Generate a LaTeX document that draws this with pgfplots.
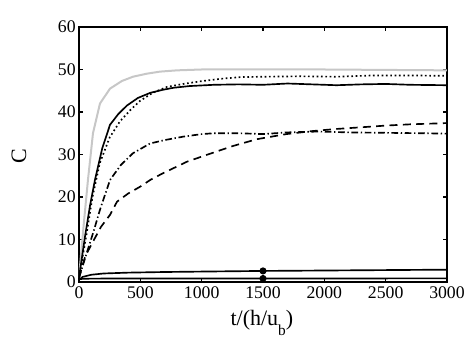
\documentclass[border=0pt]{standalone}
\usepackage{pgfplots}
\pgfplotsset{compat=1.18}
\usepackage{fontspec}
\setmainfont{Liberation Serif}

\begin{document}
\begin{tikzpicture}
\begin{axis}[
  name=ax,
  width=276pt, height=191.25pt, scale only axis,
  xmin=0, xmax=3000, ymin=0, ymax=60,
  xtick={0,500,...,3000}, ytick={0,10,...,60},
  scaled x ticks=false,
  tick align=inside, major tick length=3pt,
  axis line style={line width=1.2pt},
  major tick style={line width=0.8pt, black},
  ticklabel style={font=\fontsize{13.3}{15}\selectfont},
  yticklabel style={xshift=1pt},
  /pgf/number format/assume math mode=true,
  /pgf/number format/1000 sep={},
  label style={font=\fontsize{16.5}{18}\selectfont},
  xlabel={t/(h/u\raisebox{-0.45em}{\fontsize{11.5}{12}\selectfont b})},
  ylabel={C},
  xlabel style={at={(axis description cs:0.497,-0.16)}, anchor=center},
  ylabel style={at={(axis description cs:-0.163,0.494)}, anchor=center, rotate=0},
  every axis plot/.append style={line width=1.25pt, no markers},
]
% light grey
\addplot[color=black!22, line width=1.5pt] coordinates {
  (0,1) (40,14) (73,24) (114,35) (171,42) (253,45.5) (350,47.3) (440,48.3)
  (550,49) (660,49.5) (800,49.8) (1000,50) (1500,50) (2000,50) (2500,49.9) (3000,49.8)};
% solid
\addplot[black] coordinates {
  (0,1) (49,10.7) (90,18) (130,24) (190,31.5) (253,37) (320,39.5) (390,41.5)
  (480,43.3) (580,44.5) (680,45.2) (770,45.7) (900,46.1) (1100,46.4) (1300,46.5)
  (1500,46.4) (1700,46.7) (1900,46.5) (2100,46.3) (2300,46.5) (2500,46.6) (2700,46.4) (3000,46.3)};
% dotted
\addplot[black, dotted] coordinates {
  (0,1) (60,11) (110,20) (170,28) (250,34) (334,37.8) (420,40.5) (497,42.6)
  (600,44.5) (717,45.9) (850,46.6) (986,47.2) (1150,47.8) (1312,48.2) (1500,48.3)
  (1800,48.4) (2100,48.3) (2400,48.6) (2700,48.6) (3000,48.5)};
% dash-dot
\addplot[black, dash pattern=on 5pt off 2pt on 1pt off 2pt] coordinates {
  (0,1) (65,7) (120,12) (171,17) (253,24) (340,27.5) (440,30.3) (580,32.6)
  (700,33.4) (850,34.2) (1000,34.8) (1100,35) (1300,35) (1500,34.8) (1700,35.2)
  (1950,35.4) (2200,35.2) (2500,35.1) (2800,35) (3000,34.9)};
% dashed
\addplot[black, dash pattern=on 6pt off 4pt] coordinates {
  (0,1) (50,6) (114,9.5) (180,13) (253,15.8) (310,18.9) (400,20.8) (497,22.4)
  (580,24) (685,25.6) (880,28.3) (1050,30) (1255,32) (1450,33.6) (1690,34.8)
  (1900,35.5) (2095,36) (2300,36.4) (2500,36.8) (2700,37.1) (2910,37.3) (3000,37.4)};
% low curves
\addplot[black] coordinates {
  (0,0.5) (30,1.2) (100,1.7) (200,2.0) (400,2.2) (700,2.35) (1000,2.45)
  (1500,2.6) (2000,2.7) (2500,2.8) (3000,2.9)};
\addplot[black] coordinates {(0,0.7) (100,0.8) (1500,0.82) (3000,0.85)};
\addplot[only marks, mark=*, mark size=2pt, black] coordinates {(1500,2.6) (1500,0.82)};
\end{axis}
\path[use as bounding box] ([shift={(-59.25pt,-48.75pt)}]ax.south west)
  rectangle ([shift={(21.75pt,20.25pt)}]ax.north east);
\end{tikzpicture}
\end{document}
